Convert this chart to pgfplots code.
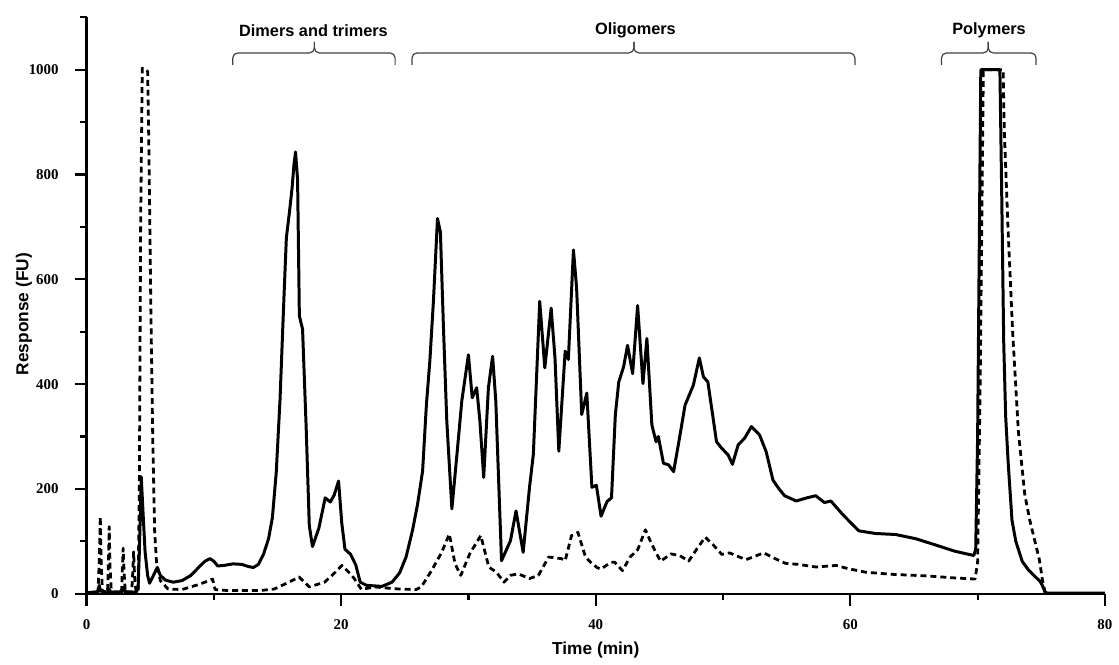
\documentclass[border=0pt]{standalone}
\usepackage{fontspec}
\setmainfont{Liberation Serif}
\newfontfamily\arial{Liberation Sans}
\usepackage{pgfplots}
\pgfplotsset{compat=1.18}
\begin{document}
\begin{tikzpicture}
\begin{axis}[
  scale only axis, width=512pt, height=289.8pt,
  xmin=0, xmax=80, ymin=0, ymax=1100,
  axis x line=bottom, axis y line=left,
  axis line style={line width=1.1pt, -},
  tick align=outside,
  major tick length=6pt, minor tick length=3.3pt,
  tick style={line width=1.1pt, black},
  xtick={0,20,...,80}, minor xtick={10,30,50,70},
  ytick={0,200,...,1000}, minor ytick={100,300,...,1100},
  scaled ticks=false,
  /pgf/number format/1000 sep={},
  /pgf/number format/assume math mode=true,
  ticklabel style={font=\bfseries\fontsize{7.5}{8}\selectfont},
  xticklabel style={yshift=-3.5pt},
  yticklabel style={xshift=-4.5pt},
  xlabel={Time (min)}, ylabel={Response (FU)},
  label style={font=\arial\bfseries\fontsize{8.7}{10}\selectfont},
  xlabel style={at={(axis description cs:0.5,-0.098)}, anchor=center},
  ylabel style={at={(axis description cs:-0.0616,0.485)}, anchor=center},
  clip=false,
]
% dashed trace
\addplot[black, line width=1.4pt, dash pattern=on 3pt off 2pt, line join=round] coordinates {
(0,2) (0.9,3) (1.0,60) (1.08,147) (1.15,60) (1.25,4) (1.65,3) (1.72,60) (1.78,128) (1.85,50) (1.95,3)
(2.75,3) (2.82,50) (2.88,87) (2.95,40) (3.05,3) (3.55,3) (3.63,40) (3.7,80) (3.78,30) (3.9,3)
(4.05,3) (4.15,200) (4.25,700) (4.38,1003) (4.55,1000) (4.8,997) (4.9,850) (5.05,550) (5.2,300)
(5.35,120) (5.5,60) (5.8,25) (6.4,9) (7.5,8) (8.6,16) (9.3,22) (9.9,28) (10.1,8) (11.1,6)
(13.6,6) (14.75,9) (15.9,22) (16.7,32) (17.5,13) (18.7,22) (19.5,40) (20.06,54) (20.6,41)
(21.0,30) (21.6,8) (22.6,13) (24.5,9) (25.9,8) (26.3,13) (27.1,44) (27.9,79) (28.5,114)
(28.95,57) (29.4,35) (30.1,76) (30.97,111) (31.6,51) (32.2,41) (32.8,22) (33.3,35) (33.9,38)
(34.8,29) (35.5,35) (36.3,70) (37.3,67) (37.6,63) (38.1,111) (38.6,117) (39.2,70) (39.6,60)
(40.1,50) (40.4,47) (41.2,60) (41.5,60) (42.1,44) (42.7,70) (43.3,84) (43.9,122) (44.3,100)
(44.7,80) (45.1,62) (45.9,76) (46.6,73) (47.3,62) (47.9,84) (48.6,108) (49.2,94) (49.9,75)
(50.5,78) (51.8,65) (53.2,78) (54.0,68) (54.9,58) (55.9,56) (57.3,51) (58.9,54) (59.8,48)
(61.2,41) (63.3,37) (66.0,34) (68.3,30) (69.8,28) (70.0,60) (70.2,400) (70.45,1000)
(72.0,1000) (72.1,880) (72.4,690) (72.75,500) (73.2,310) (73.7,190) (74.1,140) (74.5,100)
(74.85,65) (75.1,25) (75.3,3) (75.5,1)
};
% solid trace
\addplot[black, line width=1.5pt, line join=round] coordinates {
(0,2) (0.5,3) (0.9,4) (1.0,16) (1.1,5) (1.7,3) (1.8,8) (1.9,3) (2.8,4) (2.9,12) (3.0,4) (3.9,3)
(4.05,10) (4.15,80) (4.3,223) (4.45,150) (4.6,80) (4.8,35) (4.95,20) (5.2,32) (5.55,50) (5.8,35)
(6.2,26) (6.8,22) (7.5,25) (8.2,35) (8.8,50) (9.3,62) (9.7,67) (10.0,62) (10.3,53) (10.8,54)
(11.5,57) (12.2,56) (12.7,52) (13.1,50) (13.5,56) (13.9,75) (14.3,105) (14.6,145) (14.9,230)
(15.2,370) (15.5,560) (15.7,680) (15.95,730) (16.15,775) (16.3,820) (16.42,843) (16.58,790)
(16.72,530) (16.97,505) (17.25,320) (17.5,130) (17.75,90) (18.25,125) (18.75,183) (19.15,175)
(19.45,188) (19.8,215) (20.05,135) (20.3,85) (20.75,75) (21.15,55) (21.5,22) (22.0,16)
(23.2,14) (24.0,22) (24.6,40) (25.1,70) (25.6,120) (26.0,170) (26.4,234) (26.7,361)
(26.97,444) (27.25,558) (27.57,716) (27.8,690) (28.04,507) (28.3,330) (28.7,162) (29.1,266)
(29.48,368) (30.0,456) (30.3,374) (30.65,393) (30.9,330) (31.2,222) (31.57,393) (31.9,453)
(32.15,368) (32.6,63) (33.3,101) (33.74,158) (34.3,79) (34.8,203) (35.1,266) (35.6,558)
(36.0,431) (36.5,545) (36.8,450) (37.1,272) (37.6,463) (37.85,447) (38.25,656) (38.5,583)
(38.9,342) (39.3,383) (39.7,203) (40.05,207) (40.42,148) (40.89,176) (41.24,183) (41.54,341)
(41.81,404) (42.19,433) (42.5,474) (42.9,420) (43.29,550) (43.71,401) (44.02,487) (44.41,322)
(44.74,290) (44.92,300) (45.32,249) (45.72,246) (46.12,233) (46.58,297) (47.02,360)
(47.67,398) (48.14,450) (48.46,414) (48.81,404) (49.49,290) (49.88,278) (50.4,265)
(50.74,247) (51.19,284) (51.7,297) (52.23,319) (52.87,303) (53.39,271) (53.92,217)
(54.4,200) (54.84,187) (55.74,177) (56.6,183) (57.28,187) (57.97,174) (58.47,177)
(59.37,152) (60.66,120) (61.96,115) (63.55,113) (65.14,105) (66.44,95) (68.23,81)
(69.7,73) (69.85,85) (70.0,300) (70.25,1000) (71.75,1000) (71.9,750) (72.05,480) (72.2,340)
(72.4,250) (72.7,140) (73.0,100) (73.5,62) (74.0,45) (74.5,33) (74.9,24) (75.1,15) (75.3,3)
(75.5,1) (80,1)
};
% brackets and group labels
\begin{scope}[black!75, line width=0.6pt, rounded corners=2.5pt]
\draw (axis cs:11.49,1009) -- (axis cs:11.49,1032) -- (axis cs:17.9,1032) -- (axis cs:17.9,1053);
\draw (axis cs:24.24,1009) -- (axis cs:24.24,1032) -- (axis cs:17.9,1032) -- (axis cs:17.9,1053);
\draw (axis cs:25.57,1009) -- (axis cs:25.57,1032) -- (axis cs:43.0,1032) -- (axis cs:43.0,1053);
\draw (axis cs:60.36,1009) -- (axis cs:60.36,1032) -- (axis cs:43.0,1032) -- (axis cs:43.0,1053);
\draw (axis cs:67.16,1009) -- (axis cs:67.16,1032) -- (axis cs:70.84,1032) -- (axis cs:70.84,1053);
\draw (axis cs:74.59,1009) -- (axis cs:74.59,1032) -- (axis cs:70.84,1032) -- (axis cs:70.84,1053);
\end{scope}
\begin{scope}[every node/.style={font=\arial\bfseries\fontsize{8.2}{9}\selectfont, anchor=center, inner sep=0pt}]
\node at (axis cs:17.83,1075) {Dimers and trimers};
\node at (axis cs:43.12,1075) {Oligomers};
\node at (axis cs:70.9,1075) {Polymers};
\end{scope}
\end{axis}
\path[use as bounding box] (-43.5pt,-33pt) rectangle (516pt,298.5pt);
\end{tikzpicture}
\end{document}
